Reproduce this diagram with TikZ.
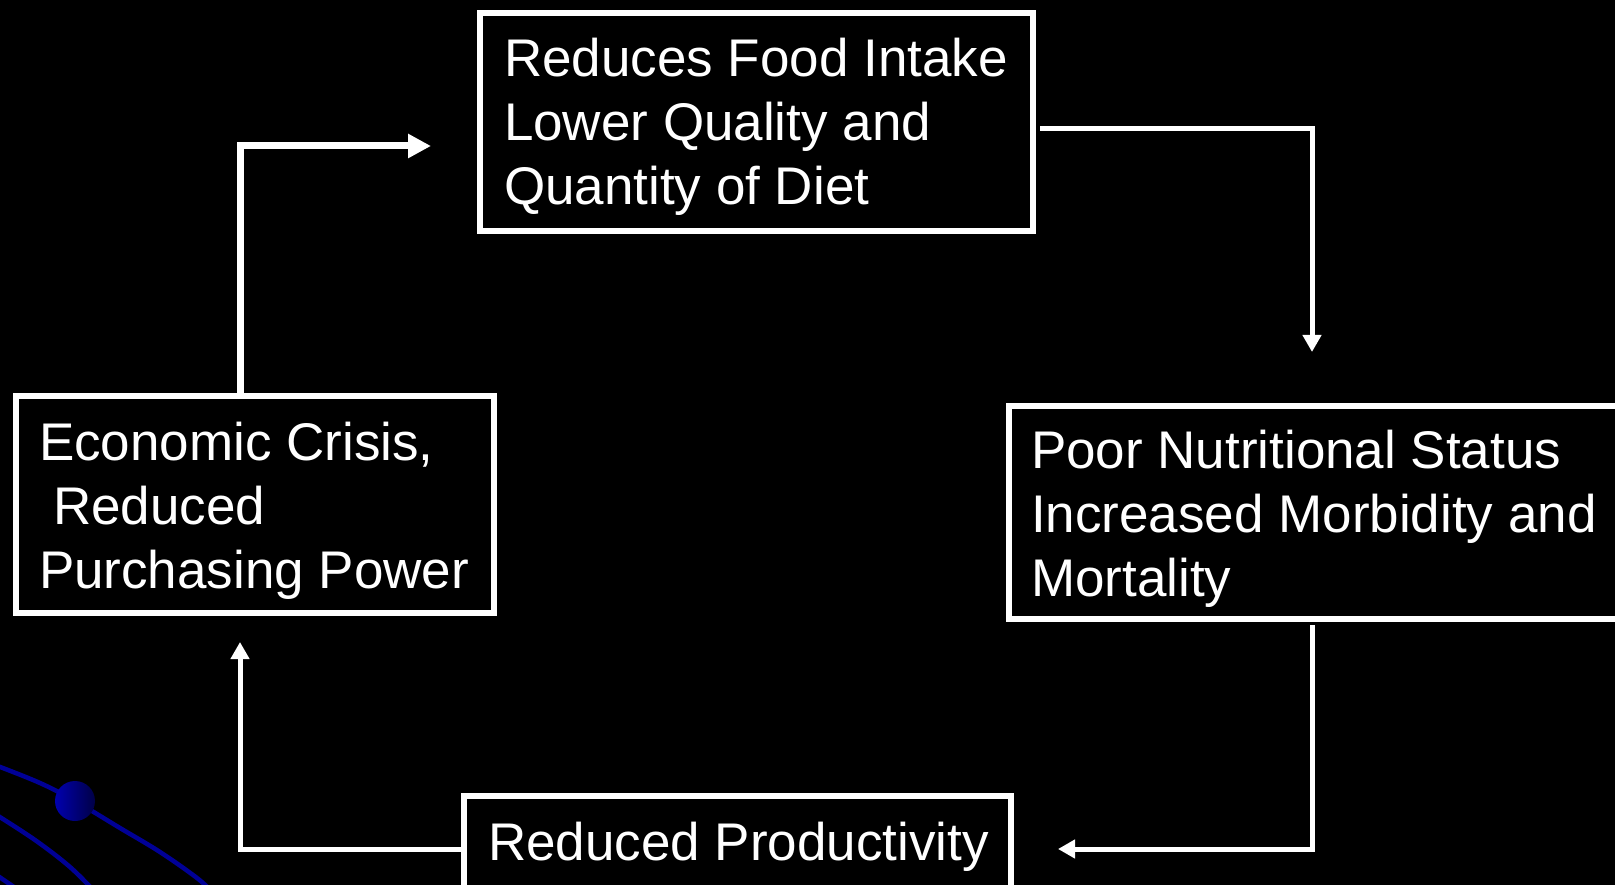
\documentclass[tikz,border=0pt]{standalone}
\usepackage{fontspec}
\setmainfont{Liberation Sans}
\usetikzlibrary{arrows.meta,calc}
\definecolor{decoblue}{RGB}{0,0,150}
\definecolor{sphlight}{RGB}{0,0,175}
\definecolor{sphdark}{RGB}{0,0,70}
\begin{document}
\begin{tikzpicture}[x=1pt,y=-1pt,
  box/.style={draw=white, line width=6pt, rectangle, inner sep=0pt, outer sep=0pt, anchor=north west},
  txt/.style={text=white, font=\fontsize{53}{64}\selectfont, align=left, anchor=base west, inner sep=0pt, outer sep=0pt},
  conn/.style={draw=white, line width=5pt, -{Triangle[length=17pt,width=18pt]}},
  connthick/.style={draw=white, line width=7pt, -{Triangle[length=23pt,width=23pt]}},
  deco/.style={draw=decoblue, line width=4.5pt}]
\fill[black] (0,0) rectangle (1615,885);
\useasboundingbox (0,0) rectangle (1615,885);
\clip (0,0) rectangle (1615,885);
% decoration
\draw[deco] plot[smooth, tension=0.6] coordinates {(-5,765) (40,783) (75,801) (120,828) (160,852) (197,878) (212,892)};
\draw[deco] plot[smooth, tension=0.6] coordinates {(-5,814) (35,840) (70,867) (95,892)};
\draw[deco] plot[smooth] coordinates {(-5,874) (14,887)};
\shade[left color=sphlight, right color=sphdark] (75,801) circle (20);
% boxes
\node[box, minimum width=553pt, minimum height=218pt] (food) at (480,13) {};
\node[box, minimum width=478pt, minimum height=217pt] (econ) at (16,396) {};
\node[box, minimum width=640pt, minimum height=213pt] (poor) at (1009,406) {};
\node[box, minimum width=547pt, minimum height=150pt] (prod) at (464,796) {};
% texts (anchored at the baseline of their last line)
\node[txt] (foodt) at (504,205) {Reduces Food Intake\\Lower Quality and\\Quantity of Diet};
\node[txt] (econt) at (39,588) {Economic Crisis,\\\hspace*{14pt}Reduced\\Purchasing Power};
\node[txt] (poort) at (1031,596) {Poor Nutritional Status\\Increased Morbidity and\\Mortality};
\node[txt] (prodt) at (488,860) {Reduced Productivity};
% connectors
\coordinate (a1) at (240,146);
\coordinate (a2) at (1312,129);
\coordinate (a3) at (1312,849);
\coordinate (a4) at (240,849);
\draw[connthick] (econ.north -| a1) -- (a1) -- ([xshift=-49pt]food.west |- a1);
\draw[conn] ([xshift=7pt]food.east |- a2) -- (a2) -- ([yshift=54pt]poor.north -| a2);
\draw[conn] ([yshift=-6pt]poor.south -| a3) -- (a3) -- ([xshift=47pt]prod.east |- a3);
\draw[conn] (prod.west |- a4) -- (a4) -- ([yshift=-29pt]econ.south -| a4);
\end{tikzpicture}
\end{document}
